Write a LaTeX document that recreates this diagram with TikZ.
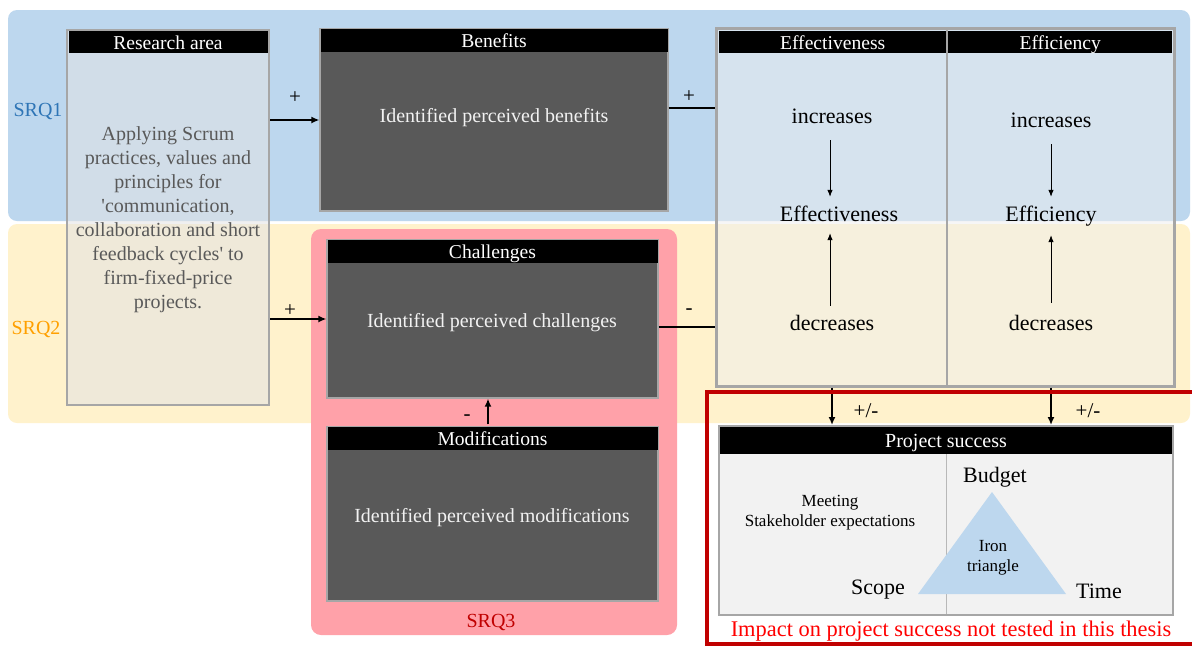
\documentclass[tikz,border=0pt]{standalone}
\usepackage{fontspec}
\setmainfont{Liberation Serif}
\newfontfamily\rawserif{Liberation Serif}
\newcommand\squote{{\rawserif'}}
\usetikzlibrary{arrows.meta,calc}
\definecolor{bandblue}{HTML}{BDD7EE}
\definecolor{bandyellow}{HTML}{FFF2CC}
\definecolor{srqpink}{HTML}{FFA1A9}
\definecolor{darkfill}{HTML}{595959}
\definecolor{framegray}{HTML}{A6A6A6}
\definecolor{srqblue}{HTML}{2E75B6}
\definecolor{srqorange}{HTML}{FFA000}
\definecolor{darkred}{HTML}{C00000}
\definecolor{psfill}{HTML}{F2F2F2}
\definecolor{bodygray}{HTML}{595959}
\definecolor{raglass}{HTML}{E2E2E4}
\definecolor{effglass}{HTML}{EFEFEF}
\definecolor{triblue}{HTML}{BDD7EE}
\definecolor{impactred}{HTML}{FF0000}

\begin{document}
\begin{tikzpicture}[x=1pt,y=-1pt,
  band/.style={rounded corners=9pt},
  srqlabel/.style={font=\fontsize{20}{24}\selectfont,inner sep=0pt},
  hdr/.style={fill=black,text=white,inner sep=0pt,font=\fontsize{19.6}{22}\selectfont,text height=17pt,text depth=3pt},
  darkbox/.style={draw=framegray,line width=1.2pt,fill=darkfill,inner sep=0pt},
  bodytext/.style={text=psfill,font=\fontsize{20}{24}\selectfont,inner sep=0pt},
  glassbox/.style={draw=framegray,line width=2.5pt,fill=#1,fill opacity=.55,inner sep=0pt},
  word/.style={font=\fontsize{22}{26}\selectfont,inner sep=0pt,text height=15pt,text depth=5pt},
  sign/.style={font=\fontsize{21}{24}\selectfont,inner sep=0pt},
  arr/.style={line width=2.2pt,-{Latex[length=8pt,width=7pt]}},
  link/.style={line width=2.2pt},
  thinarr/.style={line width=0.8pt,-{Latex[length=7pt,width=5.5pt]}},
]
\useasboundingbox (0,0) rectangle (1192,646);
\fill[white] (0,0) rectangle (1192,646);

% research-question bands
\fill[bandblue,band] (8,10) rectangle (1190,221);
\fill[bandyellow,band] (8,224) rectangle (1190,423);
\node[srqlabel,text=srqblue] (srq1) at (38,111) {SRQ1};
\node[srqlabel,text=srqorange] (srq2) at (36,329) {SRQ2};

% SRQ3 area
\fill[srqpink,rounded corners=10pt] (311,229) rectangle (677,635);
\node[srqlabel,text=darkred] (srq3) at (491,622) {SRQ3};

% research area
\node[glassbox=raglass,minimum width=202,minimum height=375] (ra) at (168,217.5) {};
\node[hdr,minimum width=199,minimum height=22,anchor=north] (rah) at ($(ra.north)+(0,2.5)$) {Research area};
\node[font=\fontsize{20}{24}\selectfont,text=bodygray,align=center,inner sep=0pt] (rat) at (168,220)
  {Applying Scrum\\practices, values and\\principles for\\\squote communication,\\collaboration and short\\feedback cycles\squote{} to\\firm-fixed-price\\projects.};

% benefits
\node[darkbox,minimum width=348,minimum height=182] (ben) at (494,120) {};
\node[hdr,minimum width=347,minimum height=23,anchor=north] (benh) at ($(ben.north)+(0,0.6)$) {Benefits};
\node[bodytext] (bent) at (494,117.5) {Identified perceived benefits};

% challenges and modifications
\node[darkbox,minimum width=331,minimum height=158] (cha) at (492.5,319) {};
\node[hdr,minimum width=330,minimum height=23,anchor=north] (chah) at ($(cha.north)+(0,0.6)$) {Challenges};
\node[bodytext] (chat) at (492,322.5) {Identified perceived challenges};

\node[darkbox,minimum width=331,minimum height=174] (mod) at (492.5,514) {};
\node[hdr,minimum width=330,minimum height=23,anchor=north] (modh) at ($(mod.north)+(0,0.6)$) {Modifications};
\node[bodytext] (modt) at (492,517.5) {Identified perceived modifications};

% effectiveness / efficiency
\node[glassbox=effglass,line width=3pt,minimum width=458,minimum height=358,fill opacity=.5] (eff) at (945,207) {};
\coordinate (effdiv) at (946.5,207);
\draw[framegray,line width=2pt] ($(eff.north -| effdiv)+(0,3)$) -- ($(eff.south -| effdiv)+(0,-3)$);
\node[hdr,minimum width=227,minimum height=22,anchor=north west] (effh1) at (719,31) {Effectiveness};
\node[hdr,minimum width=224,minimum height=22,anchor=north west] (effh2) at (948,31) {Efficiency};

\node[word] (inc1) at (832,118) {increases};
\node[word] (mid1) at (839,216) {Effectiveness};
\node[word] (dec1) at (832,325) {decreases};
\node[word] (inc2) at (1051,122) {increases};
\node[word] (mid2) at (1051,216) {Efficiency};
\node[word] (dec2) at (1051,325) {decreases};

\draw[thinarr,shorten <=12pt,shorten >=9pt] ($(inc1.south)+(-2,0)$) -- ($(inc1.south |- mid1.north)+(-2,0)$);
\draw[thinarr,shorten <=9pt,shorten >=7pt] ($(dec1.north)+(-2,0)$) -- ($(dec1.north |- mid1.south)+(-2,0)$);
\draw[thinarr,shorten <=12pt,shorten >=9pt] (inc2.south) -- (inc2.south |- mid2.north);
\draw[thinarr,shorten <=12pt,shorten >=9pt] (dec2.north) -- (dec2.north |- mid2.south);

% project success
\node[draw=framegray,line width=2pt,fill=psfill,minimum width=454,minimum height=189,inner sep=0pt] (ps) at (946,520.5) {};
\node[hdr,font=\fontsize{20}{24}\selectfont,minimum width=452,minimum height=27,anchor=north] (psh) at ($(ps.north)+(0,2)$) {Project success};
\draw[framegray!80,line width=0.8pt] (psh.south -| effdiv) -- ($(ps.south -| effdiv)+(0,-2)$);
\node[font=\fontsize{17}{20}\selectfont,align=center,inner sep=0pt] (meet) at (830,513) {Meeting\\Stakeholder expectations};
\fill[triblue] (992,492) -- (1066,594) -- (918,594) -- cycle;
\node[font=\fontsize{17}{20}\selectfont,align=center,inner sep=0pt] (iron) at (993,558) {Iron\\triangle};
\node[word] (budget) at (995,477) {Budget};
\node[word] (scope) at (878,589) {Scope};
\node[word] (time) at (1099,593) {Time};

% connectors
\draw[arr] (ra.east |- ben.west) -- (ben.west);
\node[sign] (p1) at (295,98) {+};
\draw[arr] (ra.east |- cha.west) -- (cha.west);
\node[sign] (p2) at (290,311) {+};
\draw[link] ($(ben.east)+(0,-12)$) coordinate (b1) -- (eff.west |- b1);
\node[sign] (p3) at (689,97) {+};
\draw[link] ($(cha.east)+(0,8)$) coordinate (c1) -- (eff.west |- c1);
\node[sign] (m1) at (689,312) {-};
\draw[arr] ($(mod.north)+(-4.5,-2)$) -- ($(cha.south)+(-4.5,0)$);
\node[sign] (m2) at (467,418) {-};
\draw[arr] (eff.south -| inc1) -- (ps.north -| inc1);
\node[sign] (pm1) at (866,411) {+/-};
\draw[arr] (eff.south -| inc2) -- (ps.north -| inc2);
\node[sign] (pm2) at (1088,411) {+/-};

% untested region
\draw[darkred,line width=4pt] (707,392) rectangle (1198,644);
\node[font=\fontsize{22.4}{26}\selectfont,text=impactred,inner sep=0pt] (impact) at (951,631) {Impact on project success not tested in this thesis};
\end{tikzpicture}
\end{document}
